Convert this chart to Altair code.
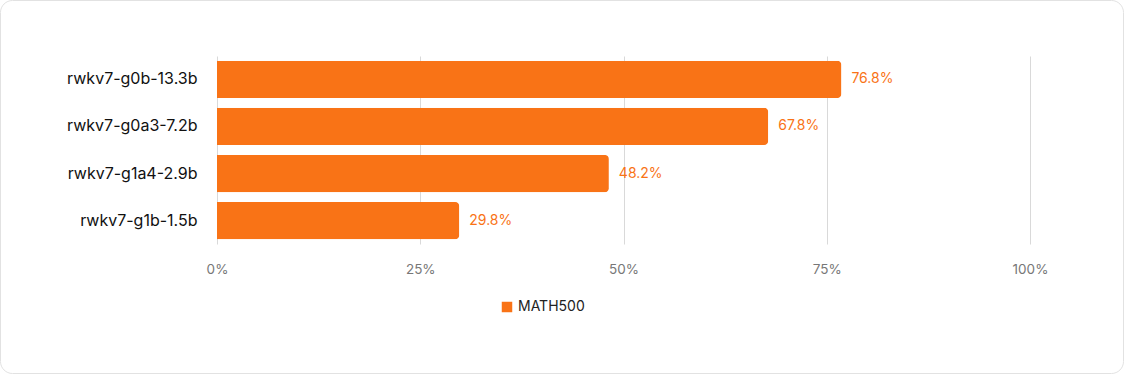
import altair as alt
import pandas as pd

models = ["rwkv7-g0b-13.3b", "rwkv7-g0a3-7.2b", "rwkv7-g1a4-2.9b", "rwkv7-g1b-1.5b"]
scores = [76.8, 67.8, 48.2, 29.8]
series = "MATH500"
x_ticks = [0, 25, 50, 75, 100]

df = pd.DataFrame({"model": models, "score": scores, "series": [series] * len(models)})
df["label"] = [f"{v:.1f}%" for v in scores]

ORANGE = "#f97316"
FONT = "Inter"
W, H = 813, 188

y_enc = alt.Y("model:N", sort=models, title=None,
              scale=alt.Scale(paddingInner=0.21, paddingOuter=0.1),
              axis=alt.Axis(labelFontSize=16, labelColor="#111111", labelPadding=20,
                            ticks=False, domain=False, grid=False, labelFont=FONT))
x_enc = alt.X("score:Q", title=None,
              scale=alt.Scale(domain=[0, 100], nice=False),
              axis=alt.Axis(values=x_ticks, labelExpr="datum.value + '%'", labelFontSize=13.5,
                            labelColor="#777777", labelPadding=18, ticks=False, domain=False,
                            labelAlign="center", labelFlush=False,
                            grid=True, gridColor="#d9d9d9", labelFont=FONT))

card = alt.Chart(pd.DataFrame({"a": [0]})).mark_rect(
    fill="transparent", stroke="#e2e2e2", strokeWidth=1, cornerRadius=12
).encode(x=alt.value(-216.5), x2=alt.value(W + 93.5), y=alt.value(-55.5), y2=alt.value(H + 129.5))

bars = alt.Chart(df).mark_bar(cornerRadiusEnd=4).encode(
    x=x_enc,
    y=y_enc,
    color=alt.Color("series:N", scale=alt.Scale(range=[ORANGE]), title=None,
                    legend=alt.Legend(orient="none", legendX=283, legendY=244, symbolType="square",
                                      symbolSize=110, labelFontSize=14, labelColor="#222222",
                                      labelFont=FONT, symbolStrokeWidth=0, direction="horizontal")),
)

labels = alt.Chart(df).mark_text(align="left", dx=10, fontSize=14, color=ORANGE, font=FONT).encode(
    x="score:Q", y=alt.Y("model:N", sort=models), text="label:N"
)

chart = alt.layer(card, bars, labels).properties(
    width=W, height=H, padding={"left": 217, "top": 56, "right": 94, "bottom": 130},
    autosize=alt.AutoSizeParams(type="none"), background="white",
).configure_view(strokeWidth=0, stroke="transparent")

chart.save("out.html", embed_options={"renderer": "svg", "actions": False})
